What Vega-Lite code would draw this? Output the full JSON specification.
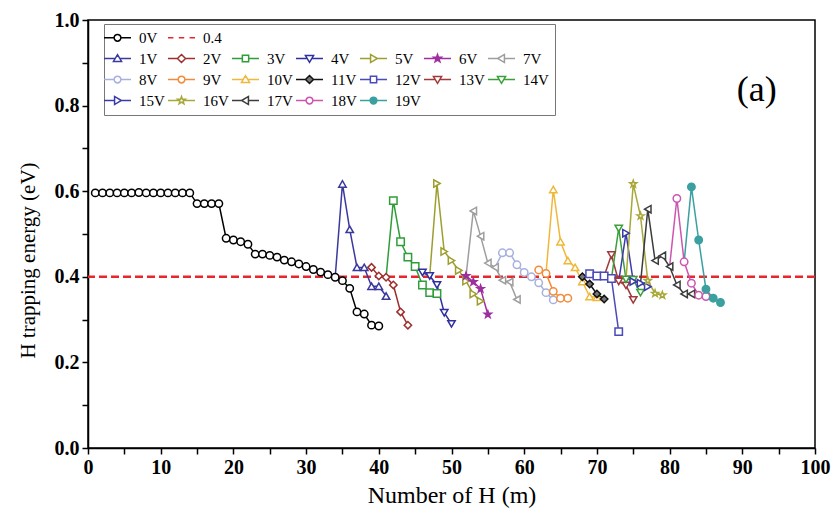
{
  "$schema": "https://vega.github.io/schema/vega-lite/v6.json",
  "width": 727,
  "height": 428,
  "autosize": {"type": "none"},
  "padding": {"left": 88, "top": 20, "right": 20, "bottom": 67},
  "background": "white",
  "config": {
    "view": {"stroke": "black", "strokeWidth": 1.5},
    "font": "Liberation Serif",
    "axis": {"labelFontWeight": 700, "titleFontWeight": 400},
    "axisX": {"values": [0,5,10,15,20,25,30,35,40,45,50,55,60,65,70,75,80,85,90,95,100],
      "labelExpr": "datum.value % 10 === 0 ? datum.label : ''", "labelOverlap": false, "labelFlush": false,
      "labelFont": "Liberation Serif", "labelFontWeight": 700, "labelFontSize": 20, "labelColor": "black", "labelPadding": 3,
      "tickColor": "black", "tickSize": 6, "tickWidth": 1.5, "domainColor": "black", "domainWidth": 1.5, "grid": false,
      "titleFont": "Liberation Serif", "titleFontSize": 24, "titleFontWeight": 400, "titleColor": "black", "titlePadding": 6},
    "axisY": {"values": [0,0.1,0.2,0.3,0.4,0.5,0.6,0.7,0.8,0.9,1.0],
      "labelExpr": "round(datum.value*10) % 2 === 0 ? format(datum.value, '.1f') : ''", "labelOverlap": false, "labelFlush": false,
      "labelFont": "Liberation Serif", "labelFontWeight": 700, "labelFontSize": 20, "labelColor": "black", "labelPadding": 3,
      "tickColor": "black", "tickSize": 6, "tickWidth": 1.5, "domainColor": "black", "domainWidth": 1.5, "grid": false,
      "titleFont": "Liberation Serif", "titleFontSize": 21, "titleFontWeight": 400, "titleColor": "black", "titlePadding": 16, "titleY": 240}
  },
  "datasets": {
    "series": [
    {"s":"0V","m":1,"E":0.596},{"s":"0V","m":2,"E":0.596},{"s":"0V","m":3,"E":0.596},{"s":"0V","m":4,"E":0.596},{"s":"0V","m":5,"E":0.596},{"s":"0V","m":6,"E":0.596},{"s":"0V","m":7,"E":0.597},{"s":"0V","m":8,"E":0.596},{"s":"0V","m":9,"E":0.596},{"s":"0V","m":10,"E":0.596},{"s":"0V","m":11,"E":0.596},{"s":"0V","m":12,"E":0.596},{"s":"0V","m":13,"E":0.596},{"s":"0V","m":14,"E":0.596},
    {"s":"0V","m":15,"E":0.571},{"s":"0V","m":16,"E":0.571},{"s":"0V","m":17,"E":0.571},{"s":"0V","m":18,"E":0.571},
    {"s":"0V","m":19,"E":0.490},{"s":"0V","m":20,"E":0.486},{"s":"0V","m":21,"E":0.482},{"s":"0V","m":22,"E":0.476},
    {"s":"0V","m":23,"E":0.453},{"s":"0V","m":24,"E":0.453},{"s":"0V","m":25,"E":0.450},{"s":"0V","m":26,"E":0.446},
    {"s":"0V","m":27,"E":0.439},{"s":"0V","m":28,"E":0.435},{"s":"0V","m":29,"E":0.430},{"s":"0V","m":30,"E":0.424},{"s":"0V","m":31,"E":0.417},{"s":"0V","m":32,"E":0.411},{"s":"0V","m":33,"E":0.405},{"s":"0V","m":34,"E":0.399},{"s":"0V","m":35,"E":0.391},{"s":"0V","m":36,"E":0.373},{"s":"0V","m":37,"E":0.318},{"s":"0V","m":38,"E":0.313},{"s":"0V","m":39,"E":0.287},{"s":"0V","m":40,"E":0.285},
    {"s":"1V","m":34,"E":0.399,"branch":true},{"s":"1V","m":35,"E":0.617},{"s":"1V","m":36,"E":0.511},{"s":"1V","m":37,"E":0.422},{"s":"1V","m":38,"E":0.422},{"s":"1V","m":39,"E":0.378},{"s":"1V","m":40,"E":0.378},{"s":"1V","m":41,"E":0.355},
    {"s":"2V","m":39,"E":0.422},{"s":"2V","m":40,"E":0.402},{"s":"2V","m":41,"E":0.399},{"s":"2V","m":42,"E":0.381},{"s":"2V","m":43,"E":0.318},{"s":"2V","m":44,"E":0.287},
    {"s":"3V","m":41,"E":0.399,"branch":true},{"s":"3V","m":42,"E":0.578},{"s":"3V","m":43,"E":0.482},{"s":"3V","m":44,"E":0.446},{"s":"3V","m":45,"E":0.424},{"s":"3V","m":46,"E":0.381},{"s":"3V","m":47,"E":0.363},{"s":"3V","m":48,"E":0.361},
    {"s":"4V","m":45,"E":0.424,"branch":true},{"s":"4V","m":46,"E":0.410},{"s":"4V","m":47,"E":0.402},{"s":"4V","m":48,"E":0.381},{"s":"4V","m":49,"E":0.316},{"s":"4V","m":50,"E":0.290},
    {"s":"5V","m":47,"E":0.402,"branch":true},{"s":"5V","m":48,"E":0.618},{"s":"5V","m":49,"E":0.459},{"s":"5V","m":50,"E":0.438},{"s":"5V","m":51,"E":0.415},{"s":"5V","m":52,"E":0.390},{"s":"5V","m":53,"E":0.360},{"s":"5V","m":54,"E":0.343},
    {"s":"6V","m":52,"E":0.402},{"s":"6V","m":53,"E":0.388},{"s":"6V","m":54,"E":0.372},{"s":"6V","m":55,"E":0.312},
    {"s":"7V","m":52,"E":0.402,"branch":true},{"s":"7V","m":53,"E":0.554},{"s":"7V","m":54,"E":0.495},{"s":"7V","m":55,"E":0.432},{"s":"7V","m":56,"E":0.422},{"s":"7V","m":57,"E":0.392},{"s":"7V","m":58,"E":0.388},{"s":"7V","m":59,"E":0.347},
    {"s":"8V","m":56,"E":0.422,"branch":true},{"s":"8V","m":57,"E":0.456},{"s":"8V","m":58,"E":0.456},{"s":"8V","m":59,"E":0.428},{"s":"8V","m":60,"E":0.410},{"s":"8V","m":61,"E":0.400},{"s":"8V","m":62,"E":0.386},{"s":"8V","m":63,"E":0.363},{"s":"8V","m":64,"E":0.346},
    {"s":"9V","m":62,"E":0.416},{"s":"9V","m":63,"E":0.408},{"s":"9V","m":64,"E":0.366},{"s":"9V","m":65,"E":0.350},{"s":"9V","m":66,"E":0.350},
    {"s":"10V","m":63,"E":0.408,"branch":true},{"s":"10V","m":64,"E":0.604},{"s":"10V","m":65,"E":0.482},{"s":"10V","m":66,"E":0.438},{"s":"10V","m":67,"E":0.422},{"s":"10V","m":68,"E":0.389},{"s":"10V","m":69,"E":0.354},{"s":"10V","m":70,"E":0.352},
    {"s":"11V","m":68,"E":0.400},{"s":"11V","m":69,"E":0.383},{"s":"11V","m":70,"E":0.360},{"s":"11V","m":71,"E":0.348},
    {"s":"12V","m":69,"E":0.407},{"s":"12V","m":70,"E":0.402},{"s":"12V","m":71,"E":0.402},{"s":"12V","m":72,"E":0.396},{"s":"12V","m":73,"E":0.272},
    {"s":"13V","m":71,"E":0.402,"branch":true},{"s":"13V","m":72,"E":0.451},{"s":"13V","m":73,"E":0.389},{"s":"13V","m":74,"E":0.380},{"s":"13V","m":75,"E":0.346},
    {"s":"14V","m":72,"E":0.396,"branch":true},{"s":"14V","m":73,"E":0.513},{"s":"14V","m":74,"E":0.394},{"s":"14V","m":75,"E":0.393},{"s":"14V","m":76,"E":0.363},
    {"s":"15V","m":73,"E":0.389,"branch":true},{"s":"15V","m":74,"E":0.502},{"s":"15V","m":75,"E":0.389},{"s":"15V","m":76,"E":0.385},{"s":"15V","m":77,"E":0.377},
    {"s":"16V","m":74,"E":0.394,"branch":true},{"s":"16V","m":75,"E":0.617},{"s":"16V","m":76,"E":0.542},{"s":"16V","m":77,"E":0.391},{"s":"16V","m":78,"E":0.361},{"s":"16V","m":79,"E":0.357},
    {"s":"17V","m":76,"E":0.385,"branch":true},{"s":"17V","m":77,"E":0.558},{"s":"17V","m":78,"E":0.438},{"s":"17V","m":79,"E":0.449},{"s":"17V","m":80,"E":0.424},{"s":"17V","m":81,"E":0.381},{"s":"17V","m":82,"E":0.360},{"s":"17V","m":83,"E":0.360},
    {"s":"18V","m":80,"E":0.424,"branch":true},{"s":"18V","m":81,"E":0.583},{"s":"18V","m":82,"E":0.435},{"s":"18V","m":83,"E":0.385},{"s":"18V","m":84,"E":0.357},{"s":"18V","m":85,"E":0.354},
    {"s":"19V","m":82,"E":0.435,"branch":true},{"s":"19V","m":83,"E":0.610},{"s":"19V","m":84,"E":0.486},{"s":"19V","m":85,"E":0.371},{"s":"19V","m":86,"E":0.350},{"s":"19V","m":87,"E":0.340}
    ],
    "threshold": [{"E": 0.4}],
    "panel": [{"m": 92, "E": 0.836, "label": "(a)"}]
  },
  "resolve": {"scale": {"color": "independent", "stroke": "independent", "fill": "independent", "shape": "independent"}},
  "layer": [
    {
      "data": {"name": "threshold"},
      "mark": {"type": "rule", "color": "#e8262b", "strokeWidth": 2.5, "strokeDash": [8, 4]},
      "encoding": {"y": {"field": "E", "type": "quantitative", "title": "H trapping energy (eV)", "scale": {"domain": [0, 1], "nice": false}}}
    },
    {
      "data": {"name": "series"},
      "mark": {"type": "line", "strokeWidth": 1.5},
      "encoding": {
        "x": {"field": "m", "type": "quantitative", "title": "Number of H (m)", "scale": {"domain": [0, 100], "nice": false}},
        "y": {"field": "E", "type": "quantitative", "title": "H trapping energy (eV)", "scale": {"domain": [0, 1], "nice": false}},
        "color": {"field": "s", "type": "nominal", "legend": null,
          "scale": {"domain": ["0V","1V","2V","3V","4V","5V","6V","7V","8V","9V","10V","11V","12V","13V","14V","15V","16V","17V","18V","19V"],
            "range": ["#000000","#3a3a9e","#9e2f2f","#2f9e3a","#2f2f9e","#9e9e2f","#9e2f9e","#9e9e9e","#a8b0e0","#f28c3a","#f0b83a","#111111","#4a4ab8","#a03a3a","#3aa03a","#3a3aa8","#a8a83a","#3c3c3c","#cc55b0","#3aa0a0"]}},
        "order": {"field": "m", "type": "quantitative"}
      }
    },
    {
      "data": {"name": "series"},
      "transform": [{"filter": "datum.branch !== true"}],
      "mark": {"type": "point", "size": 55, "strokeWidth": 1.5, "opacity": 1},
      "encoding": {
        "x": {"field": "m", "type": "quantitative", "title": "Number of H (m)"},
        "y": {"field": "E", "type": "quantitative", "title": "H trapping energy (eV)"},
        "stroke": {"field": "s", "type": "nominal", "legend": null,
          "scale": {"domain": ["0V","1V","2V","3V","4V","5V","6V","7V","8V","9V","10V","11V","12V","13V","14V","15V","16V","17V","18V","19V"],
            "range": ["#000000","#3a3a9e","#9e2f2f","#2f9e3a","#2f2f9e","#9e9e2f","#9e2f9e","#9e9e9e","#a8b0e0","#f28c3a","#f0b83a","#111111","#4a4ab8","#a03a3a","#3aa03a","#3a3aa8","#a8a83a","#3c3c3c","#cc55b0","#3aa0a0"]}},
        "fill": {"field": "s", "type": "nominal", "legend": null,
          "scale": {"domain": ["0V","1V","2V","3V","4V","5V","6V","7V","8V","9V","10V","11V","12V","13V","14V","15V","16V","17V","18V","19V"],
            "range": ["white","white","white","white","white","white","#9e2f9e","white","white","white","white","#777777","white","white","white","white","white","white","white","#3aa0a0"]}},
        "shape": {"field": "s", "type": "nominal", "legend": null,
          "scale": {"domain": ["0V","1V","2V","3V","4V","5V","6V","7V","8V","9V","10V","11V","12V","13V","14V","15V","16V","17V","18V","19V"],
            "range": ["circle","triangle-up","diamond","square","triangle-down","triangle-right",
              "M0,-1L0.235,-0.324L0.951,-0.309L0.38,0.124L0.588,0.809L0,0.4L-0.588,0.809L-0.38,0.124L-0.951,-0.309L-0.235,-0.324Z",
              "triangle-left","circle","circle","triangle-up","diamond","square","triangle-down","triangle-down","triangle-right",
              "M0,-1L0.235,-0.324L0.951,-0.309L0.38,0.124L0.588,0.809L0,0.4L-0.588,0.809L-0.38,0.124L-0.951,-0.309L-0.235,-0.324Z",
              "triangle-left","circle","circle"]}}
      }
    },
    {
      "data": {"name": "series"},
      "mark": {"type": "point", "opacity": 0},
      "encoding": {
        "x": {"field": "m", "type": "quantitative", "title": "Number of H (m)"},
        "y": {"field": "E", "type": "quantitative", "title": "H trapping energy (eV)"},
        "stroke": {"field": "s", "type": "nominal",
          "legend": {"title": null, "orient": "none", "direction": "horizontal", "legendX": 16, "legendY": 4, "columns": 7, "columnPadding": 0, "rowPadding": 5, "padding": 6,
            "strokeColor": "#777777", "fillColor": "white", "labelFont": "Liberation Serif", "labelFontSize": 15, "labelColor": "black", "labelOffset": 14,
            "symbolSize": 81, "symbolStrokeWidth": 1.5, "symbolOpacity": 1, "labelExpr": "slice(datum.label,0,1) === 'b' ? '' : datum.label"},
          "scale": {"domain": ["0V","0.4","b1","b2","b3","b4","b5","1V","2V","3V","4V","5V","6V","7V","8V","9V","10V","11V","12V","13V","14V","15V","16V","17V","18V","19V"],
            "range": ["#000000","#e8262b","transparent","transparent","transparent","transparent","transparent","#3a3a9e","#9e2f2f","#2f9e3a","#2f2f9e","#9e9e2f","#9e2f9e","#9e9e9e","#a8b0e0","#f28c3a","#f0b83a","#111111","#4a4ab8","#a03a3a","#3aa03a","#3a3aa8","#a8a83a","#3c3c3c","#cc55b0","#3aa0a0"]}},
        "fill": {"field": "s", "type": "nominal",
          "legend": {"title": null, "orient": "none", "direction": "horizontal", "legendX": 16, "legendY": 4, "columns": 7, "columnPadding": 0, "rowPadding": 5, "padding": 6,
            "strokeColor": "#777777", "fillColor": "white", "labelFont": "Liberation Serif", "labelFontSize": 15, "labelColor": "black", "labelOffset": 14,
            "symbolSize": 81, "symbolStrokeWidth": 1.5, "symbolOpacity": 1, "labelExpr": "slice(datum.label,0,1) === 'b' ? '' : datum.label"},
          "scale": {"domain": ["0V","0.4","b1","b2","b3","b4","b5","1V","2V","3V","4V","5V","6V","7V","8V","9V","10V","11V","12V","13V","14V","15V","16V","17V","18V","19V"],
            "range": ["white","white","white","white","white","white","white","white","white","white","white","white","#9e2f9e","white","white","white","white","#777777","white","white","white","white","white","white","white","#3aa0a0"]}},
        "shape": {"field": "s", "type": "nominal",
          "legend": {"title": null, "orient": "none", "direction": "horizontal", "legendX": 16, "legendY": 4, "columns": 7, "columnPadding": 0, "rowPadding": 5, "padding": 6,
            "strokeColor": "#777777", "fillColor": "white", "labelFont": "Liberation Serif", "labelFontSize": 15, "labelColor": "black", "labelOffset": 14,
            "symbolSize": 81, "symbolStrokeWidth": 1.5, "symbolOpacity": 1, "labelExpr": "slice(datum.label,0,1) === 'b' ? '' : datum.label"},
          "scale": {"domain": ["0V","0.4","b1","b2","b3","b4","b5","1V","2V","3V","4V","5V","6V","7V","8V","9V","10V","11V","12V","13V","14V","15V","16V","17V","18V","19V"],
            "range": [
              "M-3,0H-0.8M0.8,0H3M-0.75,0A0.75,0.75 0 1,0 0.75,0A0.75,0.75 0 1,0 -0.75,0Z",
              "M-3,0H-1.8M-0.6,0H0.6M1.8,0H3",
              "M0,0","M0,0","M0,0","M0,0","M0,0",
              "M-3,0H-0.55M0.55,0H3M0,-0.85L0.9,0.65L-0.9,0.65Z",
              "M-3,0H-0.9M0.9,0H3M0,-0.9L0.9,0L0,0.9L-0.9,0Z",
              "M-3,0H-0.7M0.7,0H3M-0.7,-0.7H0.7V0.7H-0.7Z",
              "M-3,0H-0.55M0.55,0H3M0,0.85L0.9,-0.65L-0.9,-0.65Z",
              "M-3,0H-0.65M0.85,0H3M0.85,0L-0.65,-0.9L-0.65,0.9Z",
              "M-3,0H-0.5M0.5,0H3M0,-0.9L0.212,-0.291L0.856,-0.278L0.342,0.111L0.529,0.728L0,0.36L-0.529,0.728L-0.342,0.111L-0.856,-0.278L-0.212,-0.291Z",
              "M-3,0H-0.85M0.65,0H3M-0.85,0L0.65,-0.9L0.65,0.9Z",
              "M-3,0H-0.8M0.8,0H3M-0.75,0A0.75,0.75 0 1,0 0.75,0A0.75,0.75 0 1,0 -0.75,0Z",
              "M-3,0H-0.8M0.8,0H3M-0.75,0A0.75,0.75 0 1,0 0.75,0A0.75,0.75 0 1,0 -0.75,0Z",
              "M-3,0H-0.55M0.55,0H3M0,-0.85L0.9,0.65L-0.9,0.65Z",
              "M-3,0H-0.9M0.9,0H3M0,-0.9L0.9,0L0,0.9L-0.9,0Z",
              "M-3,0H-0.7M0.7,0H3M-0.7,-0.7H0.7V0.7H-0.7Z",
              "M-3,0H-0.55M0.55,0H3M0,0.85L0.9,-0.65L-0.9,-0.65Z",
              "M-3,0H-0.55M0.55,0H3M0,0.85L0.9,-0.65L-0.9,-0.65Z",
              "M-3,0H-0.65M0.85,0H3M0.85,0L-0.65,-0.9L-0.65,0.9Z",
              "M-3,0H-0.5M0.5,0H3M0,-0.9L0.212,-0.291L0.856,-0.278L0.342,0.111L0.529,0.728L0,0.36L-0.529,0.728L-0.342,0.111L-0.856,-0.278L-0.212,-0.291Z",
              "M-3,0H-0.85M0.65,0H3M-0.85,0L0.65,-0.9L0.65,0.9Z",
              "M-3,0H-0.8M0.8,0H3M-0.75,0A0.75,0.75 0 1,0 0.75,0A0.75,0.75 0 1,0 -0.75,0Z",
              "M-3,0H-0.8M0.8,0H3M-0.75,0A0.75,0.75 0 1,0 0.75,0A0.75,0.75 0 1,0 -0.75,0Z"]}}
      }
    },
    {
      "data": {"name": "panel"},
      "mark": {"type": "text", "font": "Liberation Serif", "fontSize": 36, "color": "black", "align": "center", "baseline": "middle"},
      "encoding": {
        "x": {"field": "m", "type": "quantitative", "title": "Number of H (m)"},
        "y": {"field": "E", "type": "quantitative", "title": "H trapping energy (eV)"},
        "text": {"field": "label"}
      }
    }
  ]
}
